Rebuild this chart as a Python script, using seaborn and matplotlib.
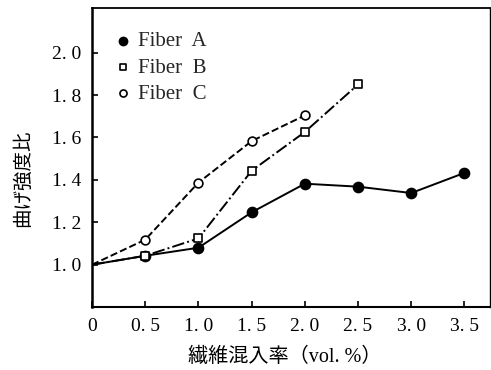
import pandas as pd
import matplotlib.pyplot as plt
import seaborn as sns

# Data
vol_a = [0, 0.5, 1.0, 1.5, 2.0, 2.5, 3.0, 3.5]
ratio_a = [1.0, 1.042, 1.08, 1.247, 1.382, 1.368, 1.338, 1.433]
vol_b = [0, 0.5, 1.0, 1.5, 2.0, 2.5]
ratio_b = [1.0, 1.042, 1.124, 1.443, 1.626, 1.85]
vol_c = [0, 0.5, 1.0, 1.5, 2.0]
ratio_c = [1.0, 1.118, 1.387, 1.583, 1.704]

x_ticks = [0, 0.5, 1.0, 1.5, 2.0, 2.5, 3.0, 3.5]
x_labels = ["0", "0. 5", "1. 0", "1. 5", "2. 0", "2. 5", "3. 0", "3. 5"]
y_ticks = [1.0, 1.2, 1.4, 1.6, 1.8, 2.0]
y_labels = ["1. 0", "1. 2", "1. 4", "1. 6", "1. 8", "2. 0"]

sns.set_theme(style="ticks")
plt.rcParams["font.family"] = ["Liberation Serif", "Noto Sans CJK JP", "DejaVu Sans"]

fig = plt.figure(figsize=(4.91, 3.70), dpi=100)
ax = fig.add_axes([0.1874, 0.170, 0.8106, 0.808])

series = [
    ("Fiber  A", vol_a, ratio_a, "-", "o", "black", 52),
    ("Fiber  B", vol_b, ratio_b, "-.", "s", "white", 32),
    ("Fiber  C", vol_c, ratio_c, "--", "o", "white", 40),
]
for name, xs, ys, ls, mk, fc, sz in series:
    df = pd.DataFrame({"x": xs, "y": ys})
    sns.lineplot(data=df, x="x", y="y", ax=ax, color="black", linestyle=ls,
                 linewidth=1.4, zorder=2)
    # no marker at the origin, as in the original
    pts = df[df["x"] > 0]
    sns.scatterplot(data=pts, x="x", y="y", ax=ax, marker=mk, s=sz,
                    facecolor=fc, edgecolor="black", linewidth=1.2,
                    zorder=3, label=name)

ax.set_xlim(0, 3.74)
ax.set_ylim(0.80, 2.21)
ax.set_xticks(x_ticks)
ax.set_xticklabels(x_labels)
ax.set_yticks(y_ticks)
ax.set_yticklabels(y_labels)
ax.tick_params(direction="in", length=4, width=1.2, labelsize=14, colors="black", pad=8)

for side in ["left", "bottom", "top", "right"]:
    ax.spines[side].set_color("black")
ax.spines["left"].set_linewidth(1.8)
ax.spines["bottom"].set_linewidth(1.5)
ax.spines["top"].set_linewidth(1.3)
ax.spines["right"].set_linewidth(1.0)

ax.set_xlabel("繊維混入率（vol. %）", fontsize=14.5, color="black")
ax.set_ylabel("曲げ強度比", fontsize=14, color="black")
ax.xaxis.set_label_coords(0.485, -0.135)
ax.yaxis.set_label_coords(-0.15, 0.43)

leg = ax.legend(loc="upper left", bbox_to_anchor=(0.062, 0.922), frameon=False,
                handlelength=0.6, handletextpad=0.42, fontsize=15, labelspacing=0.33,
                borderaxespad=0, borderpad=0)
for h, s in zip(leg.legend_handles, [34, 22, 26]):
    h.set_sizes([s])

fig.savefig("out.png", dpi=100)
plt.close(fig)
